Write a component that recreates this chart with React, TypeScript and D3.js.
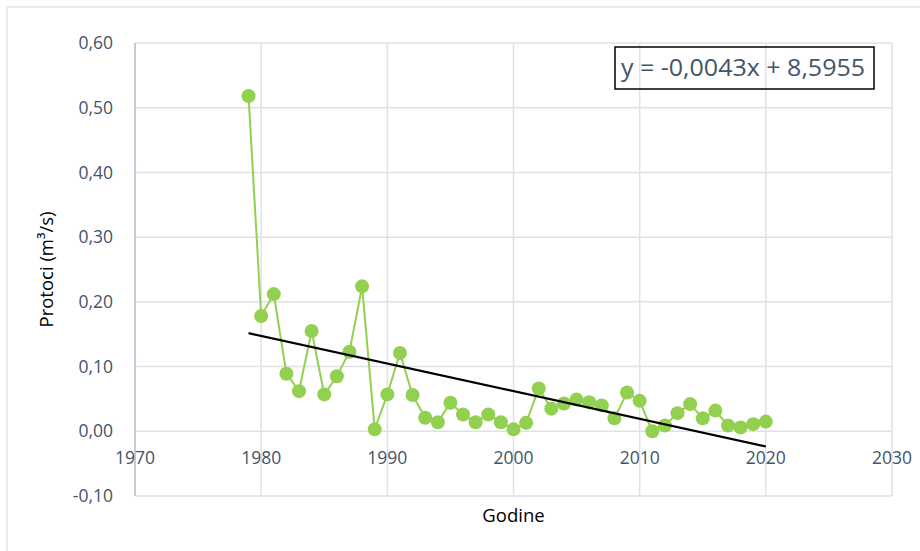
import React from 'react';
import * as d3 from 'd3';

// godine (years) and protoci (discharge, m3/s)
const years = [
  1979, 1980, 1981, 1982, 1983, 1984, 1985, 1986, 1987, 1988,
  1989, 1990, 1991, 1992, 1993, 1994, 1995, 1996, 1997, 1998,
  1999, 2000, 2001, 2002, 2003, 2004, 2005, 2006, 2007, 2008,
  2009, 2010, 2011, 2012, 2013, 2014, 2015, 2016, 2017, 2018,
  2019, 2020,
];
const flows = [
  0.518, 0.178, 0.212, 0.089, 0.062, 0.155, 0.057, 0.085, 0.123, 0.224,
  0.003, 0.057, 0.121, 0.056, 0.021, 0.014, 0.044, 0.026, 0.014, 0.026,
  0.014, 0.003, 0.013, 0.066, 0.035, 0.043, 0.049, 0.045, 0.040, 0.020,
  0.060, 0.047, 0.000, 0.009, 0.028, 0.042, 0.020, 0.032, 0.009, 0.006,
  0.011, 0.015,
];
const xTicks = [1970, 1980, 1990, 2000, 2010, 2020, 2030];
const yTicks = [-0.1, 0, 0.1, 0.2, 0.3, 0.4, 0.5, 0.6];
const equationLabel = 'y = -0,0043x + 8,5955';

const W = 920;
const H = 551;
const plot = { left: 135, right: 892, top: 43, bottom: 496 };
const tickColor = '#44546a';
const gridColor = '#dde2ea';
const font = '"Open Sans", sans-serif';

const fmt = (v: number) => d3.format('.2f')(v).replace('.', ',').replace('−', '-');

export default function App() {
  const x = d3.scaleLinear().domain([1970, 2030]).range([plot.left, plot.right]);
  const y = d3.scaleLinear().domain([-0.1, 0.6]).range([plot.bottom, plot.top]);

  const points = years.map((yr, i) => ({ yr, v: flows[i] }));

  // linear trend (least squares)
  const mx = d3.mean(years) as number;
  const my = d3.mean(flows) as number;
  const sxy = d3.sum(points, p => (p.yr - mx) * (p.v - my));
  const sxx = d3.sum(points, p => (p.yr - mx) ** 2);
  const slope = sxy / sxx;
  const icpt = my - slope * mx;
  const x0 = d3.min(years) as number;
  const x1 = d3.max(years) as number;

  const line = d3.line<{ yr: number; v: number }>()
    .x(d => x(d.yr))
    .y(d => y(d.v));

  return (
    <svg
      width={W}
      height={H}
      style={{ position: 'fixed', left: 0, top: 0, background: '#fff' }}
    >
      <rect x={7} y={7} width={W + 20} height={H + 20} fill="#fff" stroke="#e1e4e8" strokeWidth={1.5} />

      {/* grid */}
      {yTicks.map(t => (
        <line key={'gy' + t} x1={plot.left} x2={plot.right} y1={y(t)} y2={y(t)} stroke={gridColor} strokeWidth={1.5} />
      ))}
      {xTicks.map(t => (
        <line key={'gx' + t} x1={x(t)} x2={x(t)} y1={plot.top} y2={plot.bottom} stroke={gridColor} strokeWidth={1.5} />
      ))}
      <line x1={plot.left} x2={plot.left} y1={plot.top} y2={plot.bottom} stroke="#b8c0cf" strokeWidth={1.5} />

      {/* y tick labels */}
      {yTicks.map(t => (
        <text
          key={'ly' + t}
          x={113}
          y={y(t)}
          dy="0.35em"
          textAnchor="end"
          fontFamily={font}
          fontSize={17.5}
          fill={tickColor}
        >
          {fmt(t)}
        </text>
      ))}
      {/* x tick labels, under the zero line */}
      {xTicks.map(t => (
        <text
          key={'lx' + t}
          x={x(t)}
          y={y(0) + 27}
          dy="0.35em"
          textAnchor="middle"
          fontFamily={font}
          fontSize={17.5}
          fill={tickColor}
        >
          {t}
        </text>
      ))}

      {/* series */}
      <path d={line(points) || ''} fill="none" stroke="#92d050" strokeWidth={2} />
      {points.map(p => (
        <circle key={p.yr} cx={x(p.yr)} cy={y(p.v)} r={7} fill="#92d050" />
      ))}

      {/* trendline */}
      <line
        x1={x(x0)}
        y1={y(slope * x0 + icpt)}
        x2={x(x1)}
        y2={y(slope * x1 + icpt)}
        stroke="#000"
        strokeWidth={2.2}
      />

      {/* equation box (transparent, grid shows through) */}
      <rect x={615} y={47} width={259} height={42} fill="none" stroke="#000" strokeWidth={1.5} />
      <text
        x={621}
        y={68}
        dy="0.35em"
        fontFamily={font}
        fontSize={23}
        fill={tickColor}
        textLength={244}
        lengthAdjust="spacingAndGlyphs"
      >
        {equationLabel}
      </text>

      {/* axis titles */}
      <text
        x={(plot.left + plot.right) / 2}
        y={516}
        dy="0.35em"
        textAnchor="middle"
        fontFamily={font}
        fontSize={18.5}
        fill="#000"
      >
        Godine
      </text>
      <text
        transform={`translate(47,${(plot.top + plot.bottom) / 2}) rotate(-90)`}
        dy="0.35em"
        textAnchor="middle"
        fontFamily={font}
        fontSize={18.5}
        fill="#000"
      >
        Protoci (m³/s)
      </text>
    </svg>
  );
}
